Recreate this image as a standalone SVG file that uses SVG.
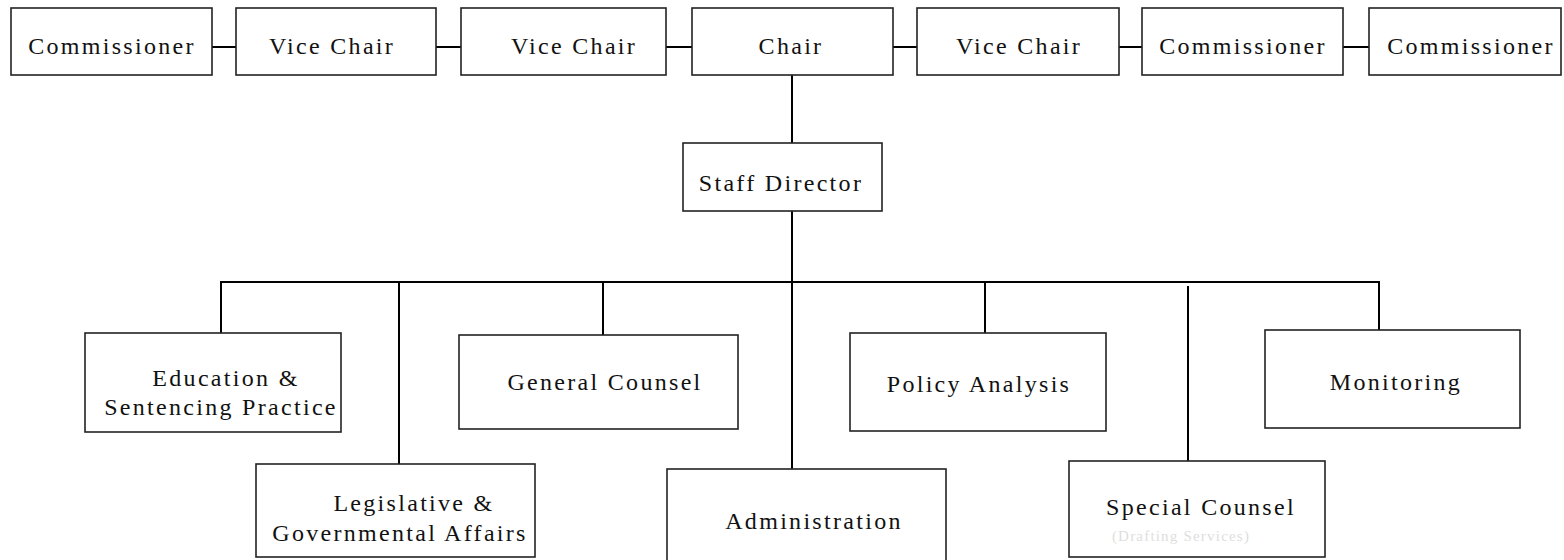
<svg xmlns="http://www.w3.org/2000/svg" width="1564" height="560" viewBox="0 0 1564 560">
<style>
.box{fill:#fff;stroke:#222;stroke-width:1.6}
.t{font-size:24px;letter-spacing:2.3px;fill:#111;text-anchor:middle}
.s{font-size:15px;letter-spacing:1.2px;fill:#dedede;text-anchor:middle}
.c{stroke:#000;stroke-width:2;fill:none}
</style>
<rect width="1564" height="560" fill="#fff"/>
<g id="connectors">
<line class="c" x1="212" y1="47" x2="236" y2="47"/>
<line class="c" x1="436" y1="47" x2="461" y2="47"/>
<line class="c" x1="666" y1="47" x2="692" y2="47"/>
<line class="c" x1="893" y1="47" x2="917" y2="47"/>
<line class="c" x1="1119" y1="47" x2="1142" y2="47"/>
<line class="c" x1="1343" y1="47" x2="1369" y2="47"/>
<line class="c" x1="792" y1="75" x2="792" y2="143"/>
<line class="c" x1="792" y1="211" x2="792" y2="469"/>
<line class="c" x1="220" y1="282" x2="1380" y2="282"/>
<line class="c" x1="221" y1="282" x2="221" y2="333"/>
<line class="c" x1="399" y1="282" x2="399" y2="464"/>
<line class="c" x1="603" y1="282" x2="603" y2="335"/>
<line class="c" x1="985" y1="282" x2="985" y2="333"/>
<line class="c" x1="1188" y1="286" x2="1188" y2="461"/>
<line class="c" x1="1379" y1="282" x2="1379" y2="330"/>
</g>
<g font-family="'Liberation Serif', 'Times New Roman', 'DejaVu Serif', serif">
<g id="commissioner1"><rect class="box" x="11" y="8" width="201" height="67"/><text class="t" x="112" y="54">Commissioner</text></g>
<g id="vicechair1"><rect class="box" x="236" y="8" width="200" height="67"/><text class="t" x="332" y="54">Vice Chair</text></g>
<g id="vicechair2"><rect class="box" x="461" y="8" width="205" height="67"/><text class="t" x="574" y="54">Vice Chair</text></g>
<g id="chair"><rect class="box" x="692" y="8" width="201" height="67"/><text class="t" x="791" y="54">Chair</text></g>
<g id="vicechair3"><rect class="box" x="917" y="8" width="202" height="67"/><text class="t" x="1019" y="54">Vice Chair</text></g>
<g id="commissioner2"><rect class="box" x="1142" y="8" width="201" height="67"/><text class="t" x="1243" y="54">Commissioner</text></g>
<g id="commissioner3"><rect class="box" x="1369" y="8" width="192" height="67"/><text class="t" x="1471" y="54">Commissioner</text></g>
<g id="staffdirector"><rect class="box" x="683" y="143" width="199" height="68"/><text class="t" x="781" y="191">Staff Director</text></g>
<g id="education"><rect class="box" x="85" y="333" width="256" height="99"/><text class="t" x="226" y="386">Education &amp;</text><text class="t" x="221" y="415">Sentencing Practice</text></g>
<g id="generalcounsel"><rect class="box" x="459" y="335" width="279" height="94"/><text class="t" x="605" y="390">General Counsel</text></g>
<g id="policyanalysis"><rect class="box" x="850" y="333" width="256" height="98"/><text class="t" x="979" y="392">Policy Analysis</text></g>
<g id="monitoring"><rect class="box" x="1265" y="330" width="255" height="98"/><text class="t" x="1396" y="390">Monitoring</text></g>
<g id="legislative"><rect class="box" x="256" y="464" width="279" height="93"/><text class="t" x="414" y="511">Legislative &amp;</text><text class="t" x="400" y="541">Governmental Affairs</text></g>
<g id="administration"><rect class="box" x="667" y="469" width="279" height="92"/><text class="t" x="814" y="529">Administration</text></g>
<g id="specialcounsel"><rect class="box" x="1069" y="461" width="256" height="96"/><text class="t" x="1201" y="515">Special Counsel</text><text class="s" x="1181" y="541">(Drafting Services)</text></g>
</g>
</svg>
